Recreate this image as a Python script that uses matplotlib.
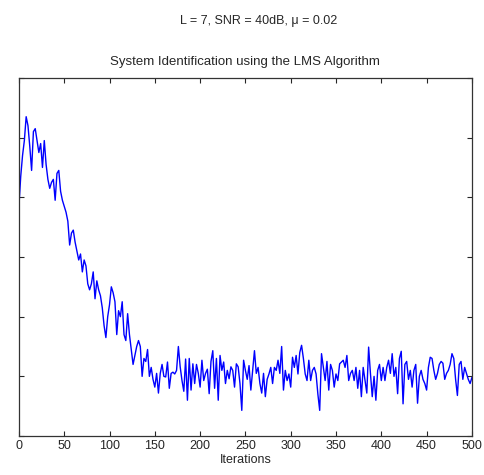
import matplotlib.pyplot as plt
import numpy as np

# learning curve, one value every 2 iterations
seg_a = [3.85, 4.35, 4.7, 4.95, 5.35, 5.2, 4.85, 4.45, 5.1, 5.15,
         4.95, 4.75, 4.9, 4.5, 4.95, 4.55, 4.3, 4.15, 4.25, 4.3,
         3.95, 4.4, 4.45, 4.1, 3.95, 3.85, 3.75, 3.6, 3.2, 3.4,
         3.45, 3.25, 3.1, 2.95, 3.05, 2.75, 2.95, 2.85, 2.55, 2.45]
seg_b = [2.55, 2.75, 2.3, 2.6, 2.45, 2.35, 2.15, 1.85, 1.65, 2.0,
         2.2, 2.5, 2.4, 2.25, 1.7, 2.1, 2.0, 2.25, 1.7, 1.6,
         2.05, 1.7, 1.45, 1.2, 1.35, 1.5, 1.6, 1.5, 1.0, 1.3,
         1.25, 1.45, 1.0, 1.15, 0.95, 0.82, 1.05, 0.72, 1.05, 1.2,
         1.0]
seg_c = [0.99, 1.24, 0.8, 1.05, 1.07, 1.04, 1.1, 1.5, 1.16, 0.93,
         0.75, 1.29, 0.6, 1.3, 0.77, 1.21, 0.88, 1.2, 1.05, 0.82,
         1.27, 0.93, 1.05, 1.12, 0.71, 1.25, 1.43, 0.8, 1.3, 0.6,
         1.35, 1.1, 1.24, 0.88, 1.1, 0.96, 1.16, 1.1, 0.82, 1.21,
         1.16, 0.88, 0.43, 1.27]
seg_d = [1.1, 0.95, 1.18, 0.77, 1.1, 1.43, 1.05, 1.15, 0.88, 0.72,
         1.05, 0.66, 0.95, 1.04, 1.15, 0.88, 1.15, 1.1, 1.27, 1.05,
         1.5, 0.77, 1.1, 0.93, 1.04, 0.82, 1.32, 1.15, 1.35, 1.04,
         1.4, 1.52, 1.3, 1.04, 0.93, 1.27, 0.93, 1.1, 1.15, 1.04,
         0.7, 0.43]
seg_e = [1.38, 1.15, 0.93, 1.25, 0.77, 1.2, 1.1, 0.82, 1.04, 0.93,
         1.21, 1.24, 1.27, 1.15, 1.35, 0.93, 1.05, 1.1, 0.93, 1.15,
         0.8, 1.1, 0.66, 1.15, 0.93, 0.72, 1.49, 1.05, 0.66, 1.0,
         0.6, 1.1, 1.2, 0.93, 1.15, 0.93, 1.15, 1.27, 1.05, 1.38,
         1.0]
seg_f = [1.15, 0.71, 1.3, 1.42, 0.54, 1.2, 1.25, 0.95, 1.1, 0.82,
         1.1, 1.2, 0.55, 1.0, 1.1, 0.95, 0.88, 0.77, 1.15, 1.32,
         1.3, 1.1, 0.95, 1.05, 1.2, 1.25, 1.22, 0.95, 1.05, 1.1,
         1.2, 1.38, 1.3, 0.95, 0.68, 1.2, 1.25, 0.95, 1.15, 1.05,
         0.95, 0.88, 0.98]

mse = np.array(seg_a + seg_b + seg_c + seg_d + seg_e + seg_f)
iters = np.arange(len(mse)) * 2

xticks = list(range(0, 501, 50))
yticks = [0, 1, 2, 3, 4, 5, 6]

plt.rcParams['font.family'] = ['Liberation Sans', 'DejaVu Sans']
txt = '#262626'

fig = plt.figure(figsize=(4.85, 4.75), dpi=100)
ax = fig.add_axes([0.039, 0.082, 0.934, 0.754])

ax.plot(iters, mse, color='#0000ff', linewidth=1.0)

ax.set_xlim(0, 500)
ax.set_ylim(0, 6)
ax.set_xticks(xticks)
ax.set_yticks(yticks)
ax.set_yticklabels([])
ax.tick_params(direction='in', length=3.5, width=0.8, labelsize=9,
               colors=txt, top=True, right=True, pad=3)
for s in ax.spines.values():
    s.set_linewidth(0.9)
    s.set_color('#333333')

ax.set_xlabel('Iterations', fontsize=9, color=txt, labelpad=1)
ax.set_title('System Identification using the LMS Algorithm', fontsize=9.5,
             color=txt, pad=9)
fig.suptitle('L = 7, SNR = 40dB, μ = 0.02', fontsize=9, color=txt,
             x=0.533, y=0.968)

fig.savefig('out.png', dpi=100)
